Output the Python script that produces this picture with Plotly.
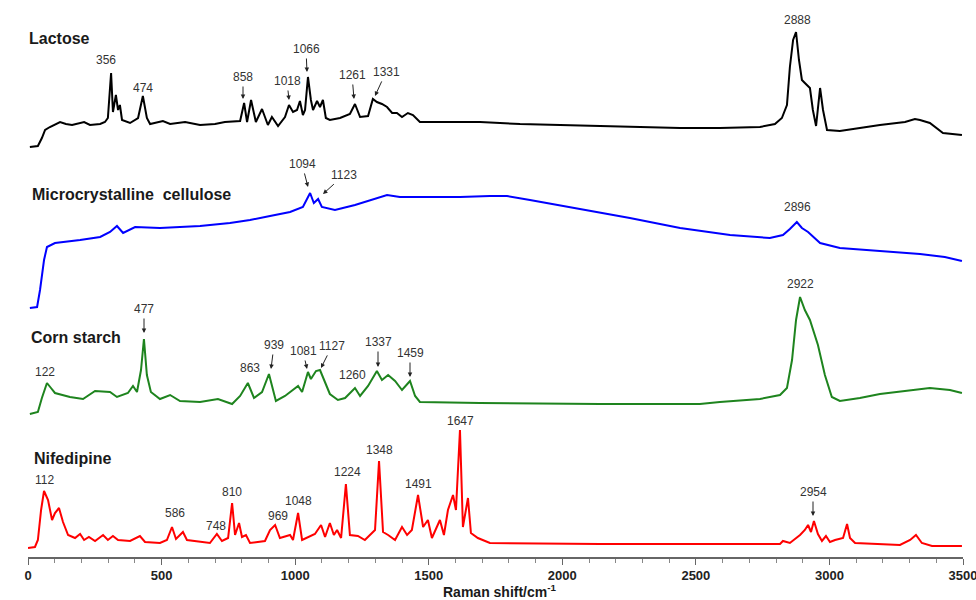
import plotly.graph_objects as go

# ---------------- data ----------------
# Raman shift (cm^-1) and relative intensity (a.u.) for each spectrum
lactose_x = [7, 37, 52, 64, 82, 120, 142, 165, 210, 232, 270, 288, 299, 311, 318, 329, 337, 344, 352,
             382, 412, 430, 445, 457, 505, 532, 588, 644, 700, 737, 794, 809, 820, 835, 853, 876, 898,
             913, 936, 962, 977, 992, 1007, 1018, 1029, 1037, 1048, 1059, 1067, 1082, 1093, 1104, 1115,
             1130, 1168, 1205, 1224, 1243, 1273, 1291, 1306, 1325, 1344, 1363, 1381, 1400, 1422, 1441,
             1467, 1542, 1692, 1842, 1991, 2141, 2291, 2441, 2590, 2740, 2796, 2822, 2841, 2852, 2864,
             2875, 2886, 2897, 2908, 2920, 2927, 2938, 2950, 2965, 2976, 2991, 3039, 3114, 3189, 3283,
             3320, 3339, 3376, 3425, 3496]
lactose_y = [0, 1, 9, 17, 20, 25, 23, 22, 25, 22, 23, 25, 29, 74, 35, 52, 37, 42, 27,
             24, 29, 51, 29, 23, 26, 23, 25, 22, 23, 25, 26, 44, 25, 47, 25, 38, 22,
             30, 21, 30, 42, 35, 37, 46, 32, 37, 70, 47, 37, 46, 40, 47, 29,
             27, 29, 33, 43, 30, 31, 48, 45, 43, 40, 34, 34, 30, 34, 32,
             25, 25, 25, 23, 22, 21, 20, 19, 19, 20, 23, 29, 42, 80, 107,
             115, 87, 67, 64, 61, 59, 37, 21, 59, 37, 17, 16, 19, 22, 25,
             28, 27, 24, 14, 12]

cellulose_x = [7, 34, 45, 60, 71, 101, 195, 270, 307, 333, 356, 401, 494, 644, 756, 831, 906, 981,
               1029, 1044, 1056, 1070, 1086, 1100, 1149, 1224, 1344, 1392, 1467, 1617, 1729, 1793,
               1879, 2066, 2253, 2441, 2628, 2777, 2826, 2852, 2878, 2897, 2920, 2965, 3039, 3189,
               3339, 3432, 3496]
cellulose_y = [0, 1, 18, 48, 61, 65, 68, 71, 76, 82, 75, 81, 80, 82, 85, 88, 92, 96,
               101, 108, 115, 105, 109, 101, 98, 103, 113, 111, 111, 111, 112, 112,
               108, 99, 90, 80, 73, 70, 73, 79, 86, 80, 76, 65, 60, 57,
               54, 51, 47]

starch_x = [7, 37, 52, 71, 86, 101, 157, 206, 251, 307, 333, 374, 393, 408, 423, 434, 445, 460, 494,
            532, 569, 644, 711, 764, 794, 823, 846, 876, 902, 928, 962, 1011, 1026, 1048, 1059, 1078,
            1093, 1108, 1130, 1160, 1187, 1224, 1243, 1273, 1306, 1325, 1348, 1374, 1400, 1430, 1449,
            1467, 1692, 2141, 2515, 2590, 2740, 2815, 2841, 2860, 2875, 2890, 2908, 2927, 2957, 2983,
            3009, 3039, 3114, 3189, 3302, 3376, 3451, 3496]
starch_y = [0, 2, 16, 31, 26, 21, 17, 15, 23, 22, 17, 21, 28, 22, 44, 75, 39, 22, 15,
            19, 13, 12, 15, 10, 18, 31, 16, 22, 40, 13, 18, 28, 22, 42, 35, 43,
            44, 34, 20, 14, 16, 26, 18, 28, 43, 34, 39, 33, 24, 33, 18,
            12, 11, 10, 10, 12, 15, 19, 26, 54, 94, 117, 104, 94, 69, 39,
            17, 13, 16, 20, 24, 26, 24, 21]

nifedipine_x = [0, 26, 37, 49, 60, 75, 90, 101, 116, 131, 150, 176, 195, 210, 228, 251, 281, 299, 318,
                337, 382, 419, 438, 494, 520, 539, 554, 580, 595, 644, 681, 707, 726, 749, 764, 775,
                790, 801, 816, 831, 887, 906, 925, 943, 981, 992, 1011, 1026, 1074, 1097, 1112, 1130,
                1145, 1157, 1172, 1190, 1205, 1235, 1261, 1299, 1314, 1329, 1348, 1374, 1400, 1419,
                1437, 1460, 1479, 1497, 1512, 1542, 1557, 1572, 1591, 1602, 1617, 1628, 1647, 1658,
                1684, 1729, 2141, 2815, 2826, 2852, 2890, 2908, 2920, 2931, 2942, 2957, 2972, 2987,
                3002, 3021, 3051, 3066, 3077, 3096, 3264, 3302, 3324, 3346, 3384, 3496]
nifedipine_y = [0, 1, 8, 38, 57, 48, 28, 35, 40, 26, 13, 10, 14, 8, 11, 7, 13, 8, 12,
                8, 7, 12, 6, 5, 8, 21, 9, 16, 8, 6, 5, 14, 7, 10, 45, 13,
                25, 11, 13, 5, 7, 18, 23, 10, 13, 8, 35, 8, 14, 23, 11, 25,
                13, 18, 10, 64, 13, 12, 8, 18, 87, 16, 13, 8, 21, 13,
                18, 53, 21, 28, 10, 28, 13, 38, 53, 38, 118, 21, 50, 15,
                10, 5, 4, 4, 7, 5, 13, 18, 23, 16, 27, 14, 7, 12,
                6, 8, 10, 24, 10, 5, 3, 8, 13, 5, 2, 2]

names = ["Lactose", "Microcrystalline\u00a0 cellulose", "Corn starch", "Nifedipine"]
colors = ["#000000", "#0000ff", "#1e841e", "#ff0000"]
offsets = [410, 249, 143, 9]   # vertical stacking offsets

lactose_peaks = ["356", "474", "858", "1018", "1066", "1261", "1331", "2888"]
cellulose_peaks = ["1094", "1123", "2896"]
starch_peaks = ["122", "477", "863", "939", "1081", "1127", "1260", "1337", "1459", "2922"]
nifedipine_peaks = ["112", "586", "748", "810", "969", "1048", "1224", "1348", "1491", "1647", "2954"]

x_ticks = [0, 500, 1000, 1500, 2000, 2500, 3000, 3500]
x_title = "Raman shift/cm<sup>-1</sup>"

# ---------------- figure ----------------
W, H = 976, 600
L, R, T, B = 28, 13, 0, 43
PW = W - L - R
PH = H - T - B
XMAX = 3500.0


def px2x(px):
    return (px - L) * XMAX / PW


def py2y(py):
    return PH - (py - T)


fig = go.Figure()
series = [(lactose_x, lactose_y), (cellulose_x, cellulose_y), (starch_x, starch_y),
          (nifedipine_x, nifedipine_y)]
for (xs, ys), c, off, nm in zip(series, colors, offsets, names):
    fig.add_trace(go.Scatter(x=xs, y=[v + off for v in ys], mode="lines",
                             line=dict(color=c, width=2), name=nm, showlegend=False,
                             hoverinfo="skip"))

# label layout: (text center px, py, arrow tip px, py or None)
label_layout = {
    0: [(106, 60, None), (143, 88, None), (243, 77, (243, 99)), (287, 81, (289, 100)),
        (306, 49, (307, 72)), (352, 75, (354, 99)), (386, 72, (375, 96)), (797, 20, None)],
    1: [(302, 164, (308, 187)), (344, 175, (323, 194)), (797, 207, None)],
    2: [(45, 372, None), (144, 309, (144, 333)), (250, 368, None), (274, 345, (271, 369)),
        (303, 351, (307, 369)), (332, 346, (321, 368)), (352, 375, None), (378, 342, (378, 367)),
        (410, 353, (410, 377)), (800, 284, None)],
    3: [(44, 480, None), (175, 513, None), (216, 526, None), (232, 492, None), (278, 516, None),
        (298, 501, None), (347, 472, None), (379, 450, None), (418, 484, None), (460, 421, None),
        (813, 492, (813, 516))],
}
peak_lists = [lactose_peaks, cellulose_peaks, starch_peaks, nifedipine_peaks]
lab_font = dict(family="Arial, Liberation Sans, sans-serif", size=12, color="#333333")

for i, peaks in enumerate(peak_lists):
    for txt, (tx, ty, tip) in zip(peaks, label_layout[i]):
        if tip is None:
            fig.add_annotation(x=px2x(tx), y=py2y(ty), text=txt, showarrow=False,
                               font=lab_font, xanchor="center", yanchor="middle")
        else:
            fig.add_annotation(x=px2x(tip[0]), y=py2y(tip[1]), text=txt, showarrow=True,
                               ax=tx - tip[0], ay=ty - tip[1], arrowhead=2, arrowsize=0.9,
                               arrowwidth=1, arrowcolor="#222222", standoff=0,
                               startstandoff=1, font=lab_font)

name_pos = [(27, 39), (30, 195), (29, 337), (32, 458)]
for nm, (nx, ny) in zip(names, name_pos):
    fig.add_annotation(xref="paper", yref="paper", x=(nx - L) / PW, y=py2y(ny) / PH,
                       text="<b>" + nm + "</b>", showarrow=False,
                       xanchor="left", yanchor="middle",
                       font=dict(family="Arial, Liberation Sans, sans-serif", size=16,
                                 color="#1a1a1a"))

fig.add_annotation(xref="paper", yref="paper", x=(500 - L) / PW, y=-(591 - PH) / PH,
                   text="<b>" + x_title + "</b>", showarrow=False, xanchor="center",
                   yanchor="middle",
                   font=dict(family="Arial, Liberation Sans, sans-serif", size=14,
                             color="#1a1a1a"))

fig.update_layout(
    width=W, height=H,
    margin=dict(l=L, r=R, t=T, b=B, pad=0),
    paper_bgcolor="white", plot_bgcolor="white",
    xaxis=dict(range=[0, XMAX], tickvals=x_ticks, ticktext=[f"<b>{v}</b>" for v in x_ticks],
               showgrid=False, zeroline=False, showline=True, linecolor="#666666",
               linewidth=1.5, ticks="outside", ticklen=6, tickwidth=1.2, tickcolor="#666666",
               automargin=False, ticklabeloverflow="allow",
               minor=dict(dtick=100, ticks="outside", ticklen=4, tickcolor="#888888",
                          tickwidth=1),
               tickfont=dict(family="Arial, Liberation Sans, sans-serif", size=13,
                             color="#222222")),
    yaxis=dict(range=[0, PH], visible=False, showgrid=False, zeroline=False),
)

fig.write_html("out.html", config={"displayModeBar": False},
               post_script="document.body.style.margin='0px';")
